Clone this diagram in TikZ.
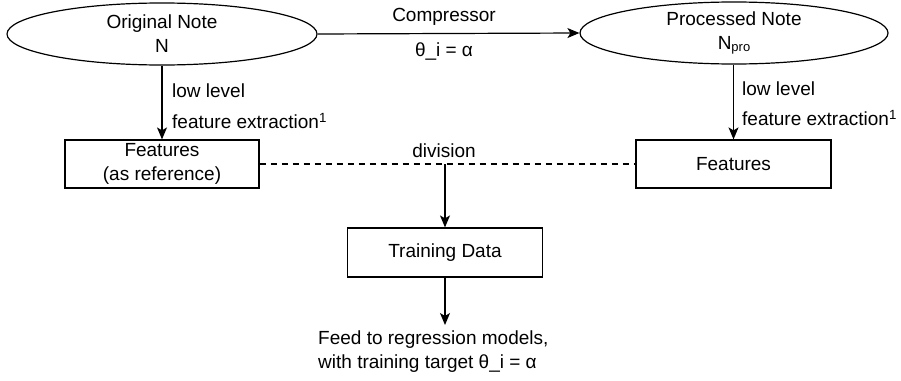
\documentclass[tikz,border=0pt]{standalone}
\usepackage{fontspec}
\setmainfont{Liberation Sans}
\usetikzlibrary{arrows.meta,shapes.geometric}

\begin{document}
\begin{tikzpicture}[x=1pt,y=-1pt,
  every node/.style={font=\fontsize{19}{24}\selectfont, text=black},
  oval/.style={draw, ellipse, line width=1.2pt, inner sep=0pt, align=center},
  block/.style={draw, rectangle, line width=1.2pt, inner sep=0pt, align=center},
  flow/.style={line width=1.2pt, -{Stealth[length=12pt,width=10pt,inset=3pt]}},
  link/.style={line width=1.2pt, dash pattern=on 6pt off 5pt},
  lbl/.style={inner sep=0pt, anchor=west}
]
\useasboundingbox (0,0) rectangle (901,380);

% notes
\node[oval, minimum width=310pt, minimum height=62pt] (orig) at (162,34)
  {Original Note\\N};
\node[oval, minimum width=308pt, minimum height=62pt] (proc) at (734,33)
  {Processed Note\\N\raisebox{-2pt}{\fontsize{13}{14}\selectfont pro}};

% feature boxes
\node[block, minimum width=194pt, minimum height=48pt] (featL) at (162,164)
  {Features\\(as reference)};
\node[block, minimum width=195pt, minimum height=48pt] (featR) at (733.5,164)
  {Features};

% training data and output
\node[block, minimum width=195pt, minimum height=49pt] (train) at (445,252.5)
  {Training Data};
\node[inner sep=0pt, align=left, anchor=north west] (feed) at (318,331)
  {Feed to regression models,\\with training target θ\_i = α};

% compressor step
\draw[flow] (orig.east) -- (proc.west);
\node[inner sep=0pt] (comp) at (444,17) {Compressor};
\node[inner sep=0pt] (theta) at (444,52) {θ\_i = α};

% feature extraction steps
\draw[flow] (orig.south) -- (featL.north);
\node[lbl] (llL) at (172,91) {low level};
\node[lbl] (feL) at (172,121) {feature extraction\textsuperscript{1}};
\draw[flow] (proc.south -| featR.north) -- (featR.north);
\node[lbl] (llR) at (742,89) {low level};
\node[lbl] (feR) at (742,118) {feature extraction\textsuperscript{1}};

% division of the two feature sets
\coordinate (div) at (445,164);
\draw[link] (featL.east) -- (featR.west);
\node[inner sep=0pt] (divlbl) at (444,151) {division};
\draw[flow] (div) -- (train.north);

% training output
\coordinate (feedtop) at (train.south |- feed.north);
\draw[flow] (train.south) -- ([yshift=6pt]feedtop);
\end{tikzpicture}
\end{document}
